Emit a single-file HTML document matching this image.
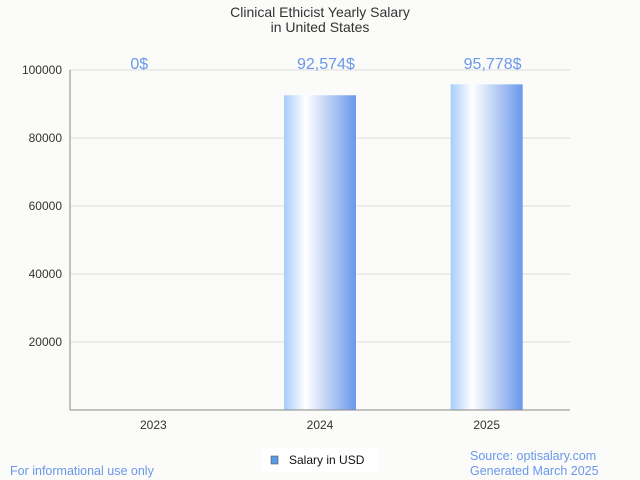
<!DOCTYPE html>
<html><head><meta charset="utf-8"><style>
body{margin:0;background:#fbfbf9;font-family:"Liberation Sans",sans-serif;}
svg{display:block}
</style></head><body>
<svg width="640" height="480">
<defs><linearGradient id="g" x1="0" x2="1" y1="0" y2="0">
<stop offset="0" stop-color="#a6cdfa"/><stop offset="0.3" stop-color="#ffffff"/><stop offset="1" stop-color="#6a98ea"/>
</linearGradient></defs>
<rect width="640" height="480" fill="#fbfbf9"/>
<text x="320" y="17" text-anchor="middle" font-size="14" fill="#333">Clinical Ethicist Yearly Salary</text>
<text x="320" y="32" text-anchor="middle" font-size="14" fill="#333">in United States</text>
<g id="grid"></g><g id="bars"></g>
<line x1="70" y1="70" x2="70" y2="410" stroke="#888"/>
<line x1="70" y1="410" x2="570" y2="410" stroke="#888"/>
<rect x="262" y="448" width="116" height="24" fill="#fff"/>
<rect x="271" y="456" width="7" height="8" fill="#5b9be6" stroke="#555" stroke-width="0.6"/>
<text x="289" y="464" font-size="12" fill="#111">Salary in USD</text>
<text x="10" y="475" font-size="12.5" fill="#6a98ea">For informational use only</text>
<text x="470" y="460" font-size="12.5" fill="#6a98ea">Source: optisalary.com</text>
<text x="470" y="475" font-size="12.5" fill="#6a98ea">Generated March 2025</text>
</svg>
<script>
const categories=["2023","2024","2025"];
const values=[0,92574,95778];
const valueLabels=["0$","92,574$","95,778$"];
const yTicks=[20000,40000,60000,80000,100000];
const NS="http://www.w3.org/2000/svg";
const y=v=>410-v/100000*340;
const xc=i=>70+(i+0.5)*500/categories.length;
function mk(t,a,p){const e=document.createElementNS(NS,t);for(const k in a)e.setAttribute(k,a[k]);p.appendChild(e);return e;}
const grid=document.getElementById('grid'),bars=document.getElementById('bars');
yTicks.forEach(t=>{
 const l=mk('line',{x1:70,x2:570,y1:y(t),y2:y(t),stroke:'#ddd'},grid);
 
 
 const tx=mk('text',{x:62,y:y(t)+4,'text-anchor':'end','font-size':12,fill:'#333'},grid);
 tx.textContent=t;
 
 
});
categories.forEach((c,i)=>{
 const r=mk('rect',{x:xc(i)-36,y:y(values[i]),width:72,height:410-y(values[i]),fill:'url(#g)'},bars);
 
 
 const tx=mk('text',{x:xc(i),y:429,'text-anchor':'middle','font-size':12,fill:'#333'},bars);
 tx.textContent=c;
 
 
 const vl=mk('text',{x:xc(i)-23,y:69,'text-anchor':'start','font-size':16,fill:'#6a98ea'},bars);
 vl.textContent=valueLabels[i];
 
 
});
</script>
</body></html>
